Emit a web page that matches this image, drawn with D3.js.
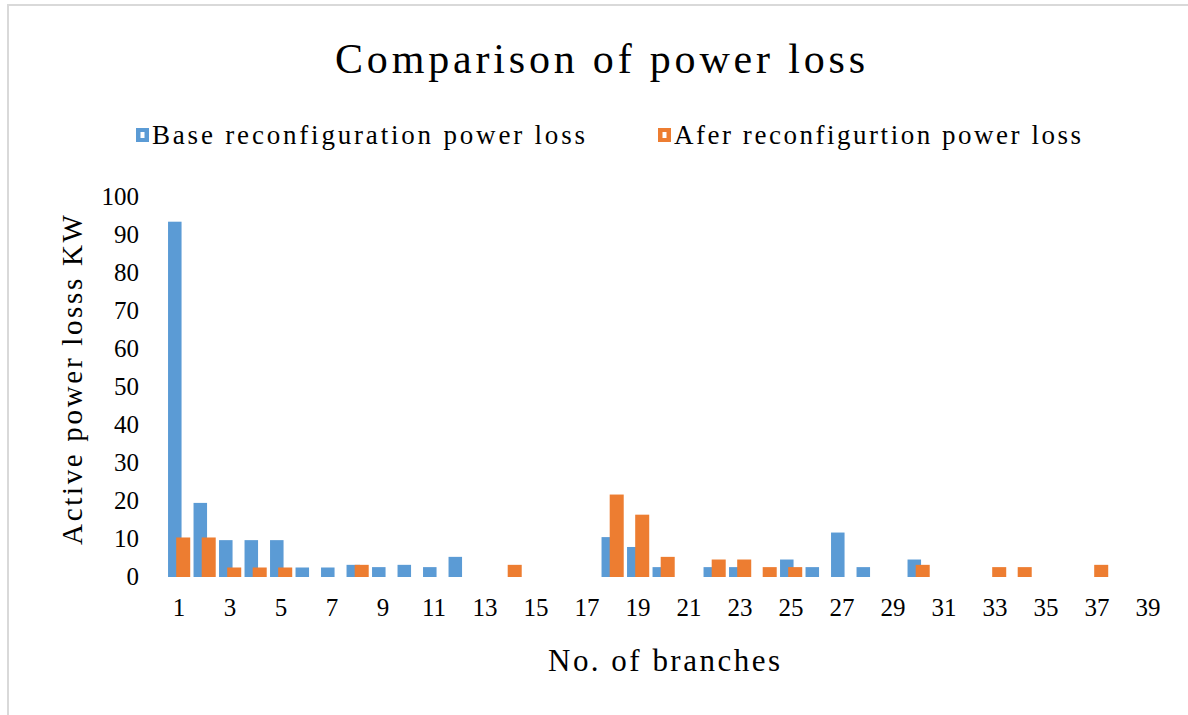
<!DOCTYPE html>
<html lang="en">
<head>
<meta charset="UTF-8">
<title>Comparison of power loss</title>
<script src="https://cdnjs.cloudflare.com/ajax/libs/d3/7.8.5/d3.min.js"></script>
<style>
body { margin: 0; background: #fff; }
text { font-family: "Liberation Serif", "Times New Roman", serif; fill: #000; }
</style>
</head>
<body>
<script>
// branch numbers 1..39
var branches = [1,2,3,4,5,6,7,8,9,10,11,12,13,14,15,16,17,18,19,20,
    21,22,23,24,25,26,27,28,29,30,31,32,33,34,35,36,37,38,39];

// active power loss (kW) before reconfiguration
var baseLoss = [93.5,19.5,9.7,9.7,9.7,2.5,2.5,3.2,2.6,3.2,2.6,5.3,0,0,0,0,0,10.5,7.9,2.6,
    0,2.6,2.6,0,4.6,2.6,11.7,2.6,0,4.6,0,0,0,0,0,0,0,0,0];

// active power loss (kW) after reconfiguration
var afterLoss = [10.4,10.4,2.5,2.5,2.5,0,0,3.2,0,0,0,0,0,3.2,0,0,0,21.7,16.4,5.3,
    0,4.6,4.6,2.6,2.6,0,0,0,0,3.2,0,0,2.6,2.6,0,0,3.2,0,0];

var yTicks = [0,10,20,30,40,50,60,70,80,90,100];
var seriesNames = ["Base reconfiguration power loss", "Afer reconfigurtion power loss"];
var colors = ["#5B9BD5", "#ED7D31"];

var W = 1188, H = 715;
var svg = d3.select("body").append("svg")
    .attr("width", W)
    .attr("height", H);

// outer frame (only top/left visible in the picture)
svg.append("path")
    .attr("d", "M8,715 V5 H1188")
    .attr("fill", "none")
    .attr("stroke", "#d9d9d9")
    .attr("stroke-width", 2);

var x = d3.scaleBand().domain(branches).range([166.25, 1160.75]).padding(0);
var y = d3.scaleLinear().domain([0, 100]).range([577, 197]);

var bw = x.bandwidth();

// base bars
svg.selectAll("rect.base")
    .data(branches.filter(function(d, i) { return baseLoss[i] > 0; }))
    .enter()
    .append("rect")
    .attr("class", "base")
    .attr("x", function(d) { return x(d) + bw * 0.07; })
    .attr("y", function(d) { return y(baseLoss[d - 1]); })
    .attr("width", bw * 0.53)
    .attr("height", function(d) { return y(0) - y(baseLoss[d - 1]); })
    .style("fill", colors[0]);

// after bars, drawn over the base bars
svg.selectAll("rect.after")
    .data(branches.filter(function(d, i) { return afterLoss[i] > 0; }))
    .enter()
    .append("rect")
    .attr("class", "after")
    .attr("x", function(d) { return x(d) + bw * 0.39; })
    .attr("y", function(d) { return y(afterLoss[d - 1]); })
    .attr("width", bw * 0.55)
    .attr("height", function(d) { return y(0) - y(afterLoss[d - 1]); })
    .style("fill", colors[1]);

// y axis labels
var yAxis = svg.append("g")
    .attr("transform", "translate(139,0)")
    .call(d3.axisLeft(y).tickValues(yTicks).tickSize(0).tickPadding(0));
yAxis.select(".domain").remove();
yAxis.selectAll("text")
    .style("font-family", "Liberation Serif, serif")
    .style("font-size", "25px")
    .attr("dy", "0.3em")
    .attr("fill", "#000");

// x axis labels, every other branch
var xAxis = svg.append("g")
    .attr("transform", "translate(0,598)")
    .call(d3.axisBottom(x)
        .tickValues(branches.filter(function(d) { return d % 2 === 1; }))
        .tickSize(0).tickPadding(0));
xAxis.select(".domain").remove();
xAxis.selectAll("text")
    .style("font-family", "Liberation Serif, serif")
    .style("font-size", "25px")
    .attr("dy", "0.71em")
    .attr("fill", "#000");

// title
svg.append("text")
    .attr("x", 600)
    .attr("y", 73)
    .attr("text-anchor", "middle")
    .attr("textLength", 530)
    .attr("lengthAdjust", "spacing")
    .style("font-size", "42px")
    .text("Comparison of power loss");

// axis titles
svg.append("text")
    .attr("x", 664)
    .attr("y", 671)
    .attr("text-anchor", "middle")
    .attr("textLength", 232)
    .attr("lengthAdjust", "spacing")
    .style("font-size", "31px")
    .text("No. of branches");

svg.append("text")
    .attr("transform", "translate(82,380) rotate(-90)")
    .attr("text-anchor", "middle")
    .attr("textLength", 330)
    .attr("lengthAdjust", "spacing")
    .style("font-size", "29px")
    .text("Active power losss KW");

// legend
var legendX = [136, 658];
var legendLen = [433, 407];
var legend = svg.selectAll("g.legend")
    .data(seriesNames)
    .enter()
    .append("g")
    .attr("class", "legend")
    .attr("transform", function(d, i) { return "translate(" + legendX[i] + ",128)"; });

legend.append("rect")
    .attr("width", 13)
    .attr("height", 14)
    .style("fill", function(d, i) { return colors[i]; });

legend.append("rect")
    .attr("x", 4.5)
    .attr("y", 4)
    .attr("width", 4)
    .attr("height", 6)
    .style("fill", "#fff");

legend.append("text")
    .attr("x", 16)
    .attr("y", 16)
    .attr("textLength", function(d, i) { return legendLen[i]; })
    .attr("lengthAdjust", "spacing")
    .style("font-size", "27px")
    .text(function(d) { return d; });
</script>
</body>
</html>
